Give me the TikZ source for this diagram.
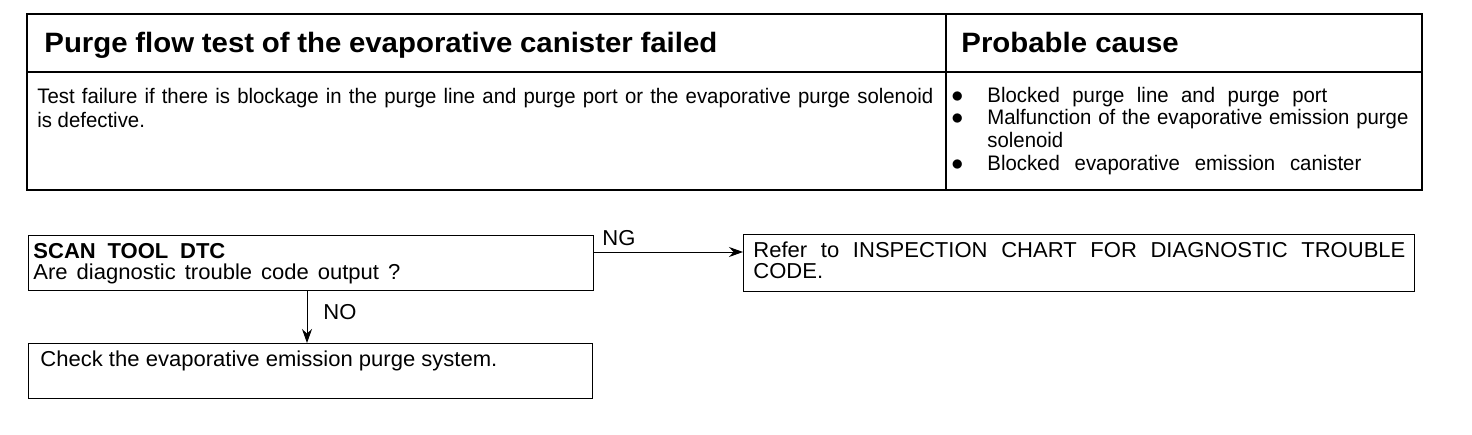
\documentclass[tikz,border=0pt]{standalone}
\usepackage{fontspec}
\setmainfont{Liberation Sans}
\newfontfamily\bodyfont[FakeStretch=0.97]{Liberation Sans}
\newfontfamily\headfont[FakeStretch=1.05]{Liberation Sans}
\newfontfamily\flowfont[FakeStretch=1.02]{Liberation Sans}
\usetikzlibrary{arrows.meta}
\tikzset{
  frame/.style={draw=black, line width=0.7pt},
  fbox/.style={draw=black, line width=0.7pt, inner sep=0pt, anchor=north west},
  txt/.style={inner sep=0pt, anchor=base west, font=\bodyfont\fontsize{10.5pt}{12pt}\selectfont},
  ftxt/.style={inner sep=0pt, anchor=base west, font=\flowfont\fontsize{10.8pt}{12pt}\selectfont},
  btxt/.style={inner sep=0pt, anchor=base west, font=\flowfont\bfseries\fontsize{10.8pt}{12pt}\selectfont},
  head/.style={inner sep=0pt, anchor=base west, font=\headfont\bfseries\fontsize{14pt}{16pt}\selectfont},
  arr/.style={line width=0.5pt, -{Stealth[length=7pt,width=5pt]}},
}
\begin{document}
\begin{tikzpicture}[x=0.5pt,y=-0.5pt]
\useasboundingbox (0,0) rectangle (1472,434);
% table
\draw[frame] (27,14) rectangle (1422,190);
\draw[line width=1.2pt] (27,190) -- (1422,190);
\draw[frame] (27,72) -- (1422,72);
\draw[frame] (946,14) -- (946,190);
\node[head] (h1) at (44,52) {\makebox[336.5pt][s]{Purge flow test of the evaporative canister failed}};
\node[head] (h2) at (961,52) {Probable cause};
\node[txt] (t1) at (37,103) {\makebox[448pt][s]{Test failure if there is blockage in the purge line and purge port or the evaporative purge solenoid}};
\node[txt] (t2) at (37,127) {is defective.};
\node[txt, font=\fontsize{12pt}{12pt}\selectfont] (b1) at (951,102) {$\bullet$};
\node[txt, font=\fontsize{12pt}{12pt}\selectfont] (b2) at (951,124) {$\bullet$};
\node[txt, font=\fontsize{12pt}{12pt}\selectfont] (b3) at (951,170) {$\bullet$};
\node[txt] (c1) at (987,102) {\makebox[170pt][s]{Blocked purge line and purge port}};
\node[txt] (c2) at (987,124) {\makebox[210.5pt][s]{Malfunction of the evaporative emission purge}};
\node[txt] (c3) at (987,147) {solenoid};
\node[txt] (c4) at (987,170) {\makebox[187pt][s]{Blocked evaporative emission canister}};
% flow chart
\node[fbox, minimum width=282.5pt, minimum height=27.5pt] (scan) at (28,235) {};
\node[btxt] (scan1) at (33,258) {\makebox[96pt][s]{SCAN TOOL DTC}};
\node[ftxt] (scan2) at (33,279) {\makebox[183.5pt][s]{Are diagnostic trouble code output ?}};
\node[fbox, minimum width=335.5pt, minimum height=28.5pt] (refer) at (743,234) {};
\node[ftxt] (ref1) at (753,257) {\makebox[326pt][s]{Refer to INSPECTION CHART FOR DIAGNOSTIC TROUBLE}};
\node[ftxt] (ref2) at (753,278) {CODE.};
\node[fbox, minimum width=282pt, minimum height=27.5pt] (check) at (28,343) {};
\node[ftxt] (chk) at (40,366) {\makebox[228.5pt][s]{Check the evaporative emission purge system.}};
\coordinate (ngs) at (593,252);
\draw[arr] (ngs) -- (ngs -| refer.west);
\node[ftxt] (ng) at (602,245) {NG};
\coordinate (nos) at (307,290);
\draw[arr] (nos) -- (nos |- check.north);
\node[ftxt] (no) at (323,319) {NO};
\end{tikzpicture}
\end{document}
